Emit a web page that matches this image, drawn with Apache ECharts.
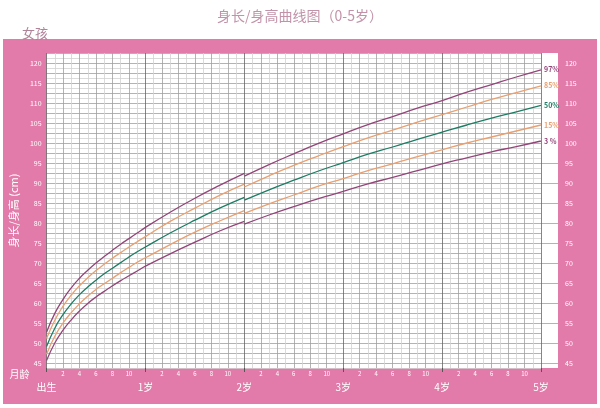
<!DOCTYPE html>
<html><head><meta charset="utf-8">
<script src="https://cdn.jsdelivr.net/npm/echarts@6/dist/echarts.min.js"></script>
<style>html,body{margin:0;padding:0;background:#fff}#c{width:600px;height:408px}</style>
</head><body><div id="c"></div>
<script>
// Age in months: length (lying) part 0-24, height (standing) part 24-60
const monthsLength = [0,1,2,3,4,5,6,7,8,9,10,11,12,15,18,21,24];
const monthsHeight = [24,27,30,33,36,39,42,45,48,51,54,57,60];

const p97Length = [52.7,57.4,60.9,63.8,66.2,68.2,70.0,71.6,73.2,74.7,76.1,77.5,78.9,82.7,86.2,89.4,92.4];
const p85Length = [51.1,55.7,59.2,62.0,64.3,66.3,68.1,69.7,71.2,72.6,74.0,75.3,76.6,80.4,83.7,86.9,89.7];
const p50Length = [49.1,53.7,57.1,59.8,62.1,64.0,65.7,67.3,68.7,70.1,71.5,72.8,74.0,77.5,80.7,83.7,86.4];
const p15Length = [47.2,51.7,55.0,57.6,59.8,61.7,63.4,64.8,66.2,67.6,68.9,70.2,71.3,74.6,77.7,80.5,83.1];
const p3Length  = [45.6,50.0,53.2,55.8,58.0,59.9,61.5,62.9,64.3,65.6,66.8,68.0,69.2,72.3,75.2,78.0,80.4];

const p97Height = [91.7,94.6,97.3,99.9,102.3,104.6,106.6,108.7,110.6,112.7,114.6,116.5,118.3];
const p85Height = [89.0,91.8,94.4,96.8,99.1,101.3,103.2,105.2,107.1,109.0,110.9,112.6,114.3];
const p50Height = [85.7,88.3,90.7,93.0,95.1,97.2,99.0,100.9,102.7,104.5,106.2,107.8,109.4];
const p15Height = [82.4,84.8,87.0,89.2,91.1,93.1,94.8,96.6,98.3,100.0,101.5,103.0,104.5];
const p3Height  = [79.7,82.0,84.1,86.1,87.9,89.8,91.4,93.1,94.8,96.3,97.8,99.1,100.5];

const percentileNames = ['97%','85%','50%','15%','3 %'];
const yearLabels = ['出生','1岁','2岁','3岁','4岁','5岁'];
const titleText = '身长/身高曲线图（0-5岁）';
const subTitleText = '女孩';
const yAxisName = '身长/身高 (cm)';
const xAxisName = '月龄';

const colors = ['#93457a','#e8a072','#1d7d63','#e8a072','#93457a'];
const lengthSets = [p97Length,p85Length,p50Length,p15Length,p3Length];
const heightSets = [p97Height,p85Height,p50Height,p15Height,p3Height];

const series = [];
percentileNames.forEach((name, k) => {
  const base = {
    type: 'line', xAxisIndex: 0, yAxisIndex: 0, name: name,
    symbol: 'none', smooth: 0.5,
    lineStyle: { color: colors[k], width: 1.3 }, itemStyle: { color: colors[k] }, z: 5
  };
  series.push(Object.assign({}, base, {
    data: monthsLength.map((m, i) => [m, lengthSets[k][i]])
  }));
  series.push(Object.assign({}, base, {
    data: monthsHeight.map((m, i) => [m, heightSets[k][i]]),
    endLabel: { show: true, formatter: name, color: colors[k], fontSize: 7, fontWeight: 'bold', distance: 3 }
  }));
});

const vLineColors = [];
for (let i = 0; i < 12; i++) vLineColors.push(i === 0 ? '#666' : (i % 2 === 0 ? '#a0a0a0' : '#d2d2d2'));

const FONT = '"Noto Sans CJK SC", "Noto Sans", sans-serif';
const chart = echarts.init(document.getElementById('c'));
chart.setOption({
  animation: false,
  textStyle: { fontFamily: FONT },
  graphic: [{ type: 'rect', z: -100, silent: true, shape: { x: 3, y: 39, width: 594, height: 365 }, style: { fill: '#e27ba9' } }],
  title: [
    { text: titleText, left: 'center', top: 4, textStyle: { fontSize: 14, fontWeight: 'normal', color: '#c293a8', fontFamily: FONT } },
    { text: subTitleText, left: 17, top: 22, textStyle: { fontSize: 13, fontWeight: 'normal', color: '#b08399', fontFamily: FONT } }
  ],
  grid: [
    { left: 46, right: 59, top: 53, bottom: 40, show: true, backgroundColor: '#fff', borderWidth: 0 },
    { left: 541, right: 42, top: 53, bottom: 40, show: true, backgroundColor: '#fff', borderWidth: 0 },
    { left: 541, right: 42, top: 163, bottom: 45, show: false }
  ],
  xAxis: [
    { type: 'value', gridIndex: 0, min: 0, max: 60, interval: 1,
      name: xAxisName, nameLocation: 'start', nameGap: 17,
      nameTextStyle: { color: '#fff', fontSize: 10, verticalAlign: 'top', padding: [1,0,0,0] },
      axisLine: { show: false }, axisTick: { show: false },
      axisLabel: { color: '#fff', fontSize: 6, margin: 3,
        formatter: v => (v % 12 !== 0 && v % 2 === 0) ? String(v % 12) : '' },
      splitLine: { show: true, lineStyle: { color: vLineColors, width: 0.8 } } },
    { type: 'value', gridIndex: 0, min: 0, max: 60, interval: 12, position: 'bottom',
      axisLine: { show: false }, axisTick: { show: true, length: 4, lineStyle: { color: '#555' } },
      axisLabel: { color: '#fff', fontSize: 10, margin: 14, formatter: v => yearLabels[Math.round(v / 12)] },
      splitLine: { show: false } },
    { type: 'value', gridIndex: 1, show: false, min: 0, max: 1 },
    { type: 'value', gridIndex: 2, show: false, min: 0, max: 1 }
  ],
  yAxis: [
    { type: 'value', gridIndex: 0, min: 43.75, max: 122.5, interval: 1.25,
      name: yAxisName, nameLocation: 'middle', nameGap: 24, nameRotate: 90,
      nameTextStyle: { color: '#fff', fontSize: 11 },
      axisLine: { show: false }, axisTick: { show: false },
      axisLabel: { color: '#fff', fontSize: 7, margin: 5, formatter: v => (Math.abs(v % 5) < 1e-6 ? String(v) : '') },
      splitLine: { show: true, lineStyle: { color: ['#d2d2d2', '#a0a0a0'], width: 0.8 } } },
    { type: 'value', gridIndex: 1, min: 43.75, max: 122.5, interval: 1.25, position: 'right',
      axisLine: { show: false }, axisTick: { show: false }, splitLine: { show: false },
      axisLabel: { color: '#fff', fontSize: 7, margin: 7, formatter: v => (Math.abs(v % 5) < 1e-6 ? String(v) : '') } },
    { type: 'value', gridIndex: 2, min: 45, max: 95, interval: 5,
      axisLine: { show: false }, axisTick: { show: false }, axisLabel: { show: false },
      splitLine: { show: true, lineStyle: { color: '#a0a0a0', width: 0.8 } } }
  ],
  series: series
});
</script></body></html>
